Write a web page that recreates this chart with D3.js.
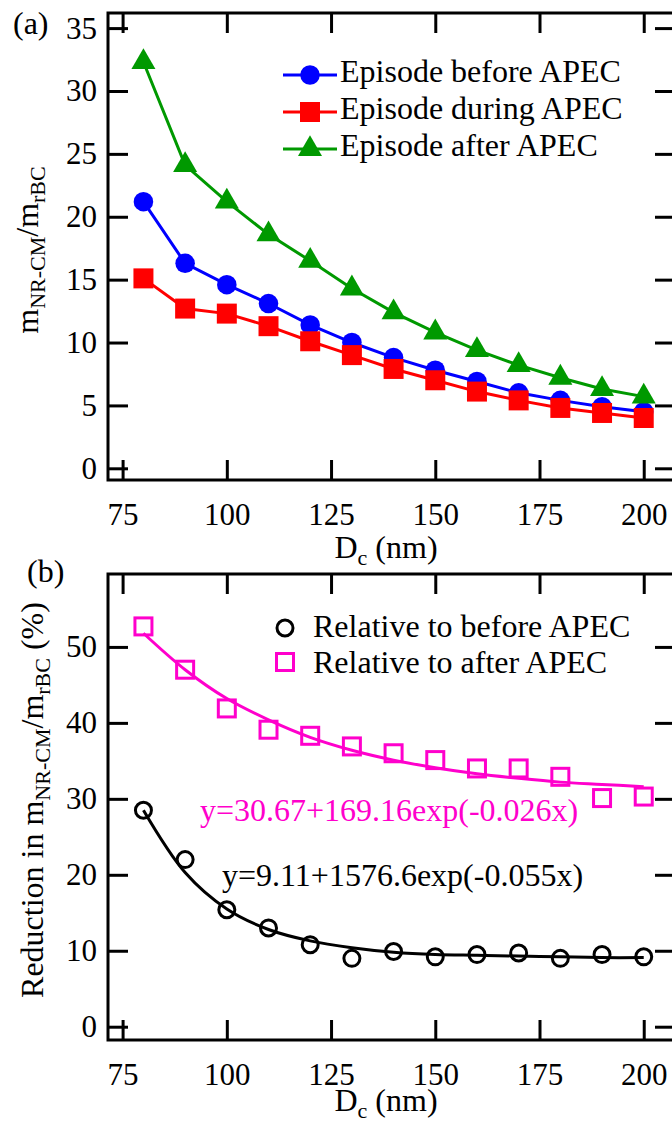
<!DOCTYPE html>
<html>
<head>
<meta charset="utf-8">
<script src="https://cdn.jsdelivr.net/npm/d3@7/dist/d3.min.js"></script>
<style>
  body { margin: 0; background: #fff; }
</style>
</head>
<body>
<svg id="chart" width="672" height="1128"></svg>
<script>
// particle core diameter (nm)
const diameters = [80, 90, 100, 110, 120, 130, 140, 150, 160, 170, 180, 190, 200];
const xTicks = [75, 100, 125, 150, 175, 200];

// panel (a): mass ratio NR-CM / rBC
const ratioBefore = [21.2, 16.3, 14.6, 13.1, 11.4, 10.0, 8.8, 7.8, 6.9, 6.0, 5.4, 4.9, 4.5];
const ratioDuring = [15.1, 12.7, 12.3, 11.3, 10.1, 9.0, 7.9, 7.0, 6.1, 5.4, 4.8, 4.4, 4.0];
const ratioAfter  = [32.3, 24.1, 21.2, 18.6, 16.5, 14.3, 12.4, 10.8, 9.4, 8.2, 7.2, 6.3, 5.7];
const ratioTicks = [0, 5, 10, 15, 20, 25, 30, 35];
const ratioLabels = ["Episode before APEC", "Episode during APEC", "Episode after APEC"];

// panel (b): reduction (%)
const reductionBefore = [28.5, 22.0, 15.4, 13.0, 10.8, 9.0, 9.9, 9.2, 9.5, 9.7, 9.0, 9.5, 9.2];
const reductionAfter  = [52.7, 47.0, 41.9, 39.1, 38.3, 36.9, 36.0, 35.1, 34.0, 34.0, 32.9, 30.1, 30.3];
// fitted curves at each diameter
const fitBefore = [28.5, 20.3, 15.5, 12.8, 11.3, 10.4, 9.8, 9.5, 9.4, 9.3, 9.2, 9.1, 9.1];
const fitAfter  = [51.8, 47.0, 43.2, 40.4, 38.1, 36.4, 35.1, 34.1, 33.3, 32.7, 32.2, 31.9, 31.6];
const reductionTicks = [0, 10, 20, 30, 40, 50];
const reductionLabels = ["Relative to before APEC", "Relative to after APEC"];
const fitTextBefore = "y=9.11+1576.6exp(-0.055x)";
const fitTextAfter = "y=30.67+169.16exp(-0.026x)";

const FONT = "Liberation Serif";
const svg = d3.select("#chart").attr("font-family", FONT);
const left = 108, right = 675, tickLen = 20, fs = 31, ls = 32, sub = 22;

function drawPanel(top, bottom, yDomain, yTicks, labelY) {
  const x = d3.scaleLinear().domain([71.5, 207.5]).range([left, right]);
  const y = d3.scaleLinear().domain(yDomain).range([bottom, top]);
  const g = svg.append("g");

  const styleAxis = sel => {
    sel.attr("font-family", FONT).attr("font-size", fs);
    sel.select(".domain").remove();
    sel.selectAll("line").attr("stroke", "#000").attr("stroke-width", 3);
    sel.selectAll("text").attr("fill", "#000").attr("font-family", FONT);
  };

  g.append("g").attr("transform", `translate(0,${bottom})`)
    .call(d3.axisBottom(x).tickValues(xTicks).tickSize(-tickLen).tickPadding(8).tickFormat(d3.format("d")))
    .call(styleAxis)
    .selectAll("text").attr("dy", "1.2em");
  g.append("g").attr("transform", `translate(0,${top})`)
    .call(d3.axisTop(x).tickValues(xTicks).tickSize(-tickLen).tickFormat(""))
    .call(styleAxis);
  g.append("g").attr("transform", `translate(${left},0)`)
    .call(d3.axisLeft(y).tickValues(yTicks).tickSize(-tickLen).tickPadding(11).tickFormat(d3.format("d")))
    .call(styleAxis);
  g.append("g").attr("transform", `translate(${right},0)`)
    .call(d3.axisRight(y).tickValues(yTicks).tickSize(-tickLen).tickFormat(""))
    .call(styleAxis);

  g.append("rect")
    .attr("x", left).attr("y", top)
    .attr("width", right - left).attr("height", bottom - top)
    .attr("fill", "none").attr("stroke", "#000").attr("stroke-width", 3);

  // x label: D_c (nm)
  const xl = g.append("text")
    .attr("x", 386).attr("y", labelY)
    .attr("text-anchor", "middle").attr("font-size", ls).attr("font-family", FONT);
  xl.append("tspan").text("D");
  xl.append("tspan").attr("font-size", sub).attr("dy", 7).text("c");
  xl.append("tspan").attr("dy", -7).text(" (nm)");

  return { x, y, g };
}

function ratioLabel(text, prefix) {
  if (prefix) text.append("tspan").text(prefix);
  text.append("tspan").text("m");
  text.append("tspan").attr("font-size", sub).attr("dy", 7).text("NR-CM");
  text.append("tspan").attr("dy", -7).text("/m");
  text.append("tspan").attr("font-size", sub).attr("dy", 7).text("rBC");
  if (prefix) text.append("tspan").attr("dy", -7).text(" (%)");
}

function addText(parent, x, y, str, size) {
  return parent.append("text").attr("x", x).attr("y", y)
    .attr("font-family", FONT).attr("font-size", size || ls).text(str);
}

// ---------- panel (a)
const pa = drawPanel(13, 480, [-0.93, 36.2], ratioTicks, 558);
const seriesA = [
  { values: ratioBefore, color: "#0000ff", symbol: d3.symbolCircle, size: 300 },
  { values: ratioDuring, color: "#ff0000", symbol: d3.symbolSquare, size: 400 },
  { values: ratioAfter,  color: "#009900", symbol: d3.symbolTriangle, size: 250 }
];
const lineA = d3.line().x((d, i) => pa.x(diameters[i])).y(d => pa.y(d));
seriesA.forEach(s => {
  pa.g.append("path").datum(s.values)
    .attr("fill", "none").attr("stroke", s.color).attr("stroke-width", 3)
    .attr("d", lineA);
});
seriesA.forEach(s => {
  pa.g.selectAll(null).data(s.values).join("path")
    .attr("transform", (d, i) => `translate(${pa.x(diameters[i])},${pa.y(d)})`)
    .attr("d", d3.symbol(s.symbol, s.size)())
    .attr("fill", s.color);
});
// legend (a)
seriesA.forEach((s, i) => {
  const cy = 75 + i * 37;
  pa.g.append("line").attr("x1", 283).attr("x2", 337).attr("y1", cy).attr("y2", cy)
    .attr("stroke", s.color).attr("stroke-width", 3);
  pa.g.append("path").attr("transform", `translate(310,${cy})`)
    .attr("d", d3.symbol(s.symbol, s.size)()).attr("fill", s.color);
  addText(pa.g, 340, cy + 7, ratioLabels[i]);
});
addText(svg, 13, 34, "(a)");
ratioLabel(svg.append("text")
  .attr("transform", "translate(38,250) rotate(-90)")
  .attr("text-anchor", "middle").attr("font-family", FONT).attr("font-size", ls), null);

// ---------- panel (b)
const pb = drawPanel(574, 1040, [-1.75, 59.6], reductionTicks, 1111);
const fitLine = d3.line().curve(d3.curveCatmullRom).x((d, i) => pb.x(diameters[i])).y(d => pb.y(d));
pb.g.append("path").datum(fitAfter)
  .attr("fill", "none").attr("stroke", "#ff00cc").attr("stroke-width", 3).attr("d", fitLine);
pb.g.append("path").datum(fitBefore)
  .attr("fill", "none").attr("stroke", "#000").attr("stroke-width", 3).attr("d", fitLine);
pb.g.selectAll(null).data(reductionAfter).join("rect")
  .attr("x", (d, i) => pb.x(diameters[i]) - 8.5)
  .attr("y", d => pb.y(d) - 8.5)
  .attr("width", 17).attr("height", 17)
  .attr("fill", "none").attr("stroke", "#ff00cc").attr("stroke-width", 3);
pb.g.selectAll(null).data(reductionBefore).join("circle")
  .attr("cx", (d, i) => pb.x(diameters[i]))
  .attr("cy", d => pb.y(d))
  .attr("r", 8)
  .attr("fill", "none").attr("stroke", "#000").attr("stroke-width", 3);
// legend (b)
pb.g.append("circle").attr("cx", 285).attr("cy", 628).attr("r", 8)
  .attr("fill", "none").attr("stroke", "#000").attr("stroke-width", 3);
pb.g.append("rect").attr("x", 276.5).attr("y", 653.5).attr("width", 17).attr("height", 17)
  .attr("fill", "none").attr("stroke", "#ff00cc").attr("stroke-width", 3);
reductionLabels.forEach((t, i) => addText(pb.g, 313, 637 + i * 36, t));
addText(pb.g, 200, 821, fitTextAfter).attr("fill", "#ff00cc");
addText(pb.g, 222, 886, fitTextBefore);
addText(svg, 27, 582, "(b)");
ratioLabel(svg.append("text")
  .attr("transform", "translate(43,800) rotate(-90)")
  .attr("text-anchor", "middle").attr("font-family", FONT).attr("font-size", ls), "Reduction in ");
</script>
</body>
</html>
